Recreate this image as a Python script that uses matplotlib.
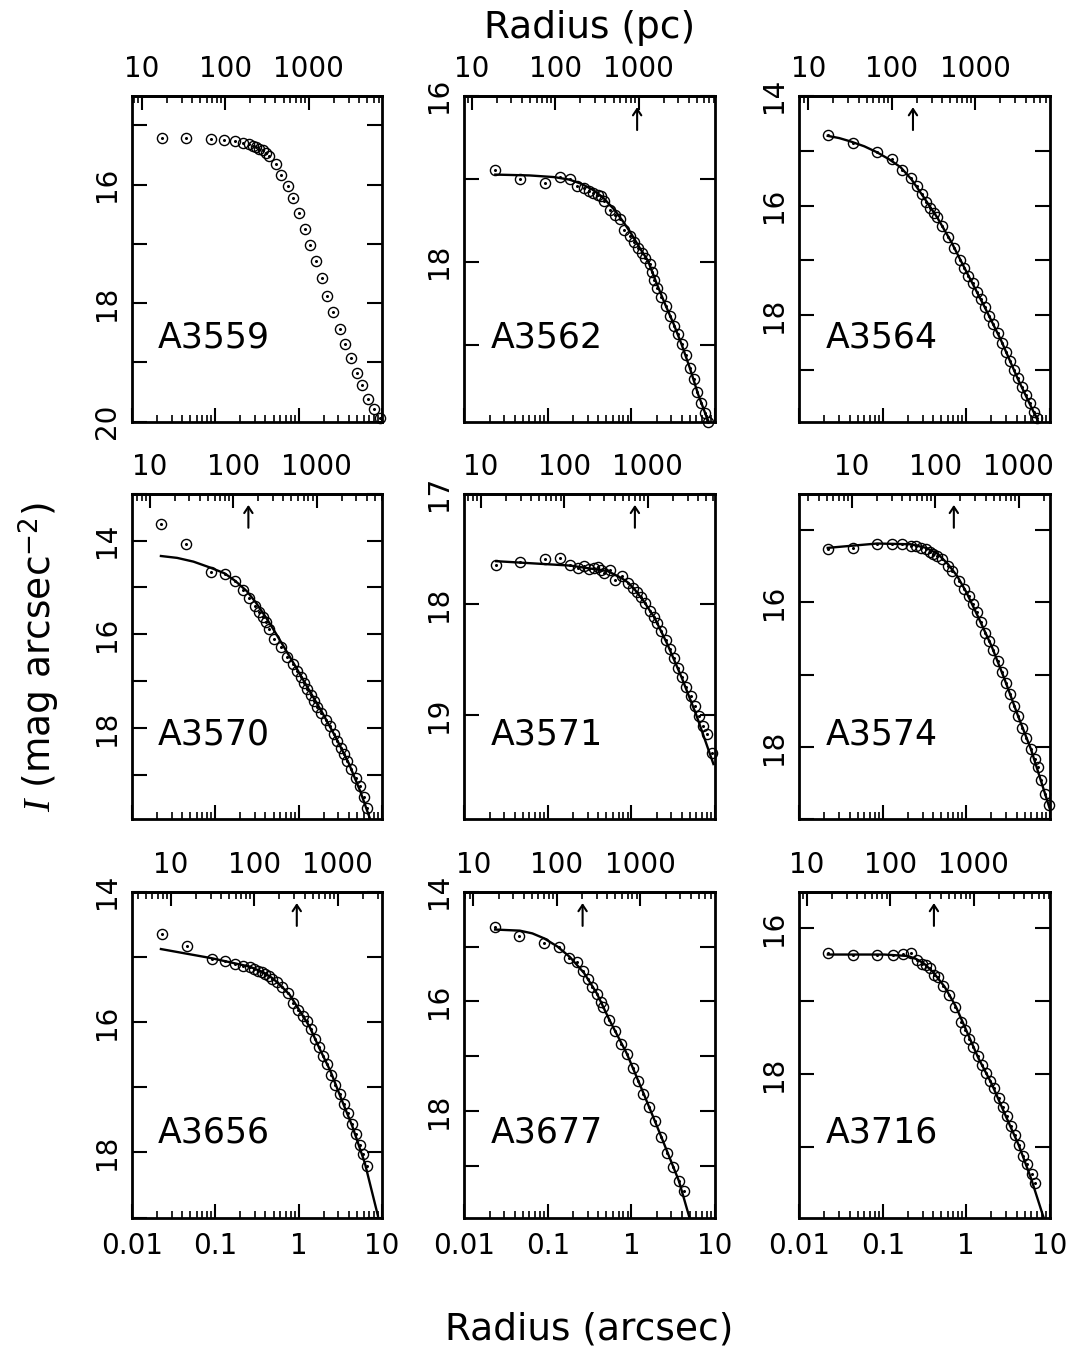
import numpy as np
import matplotlib
matplotlib.use('Agg')
import matplotlib.pyplot as plt
from matplotlib.ticker import LogLocator, NullFormatter, NullLocator

plt.rcParams['font.family'] = 'DejaVu Sans'
plt.rcParams['mathtext.fontset'] = 'custom'
plt.rcParams['mathtext.it'] = 'Liberation Serif:italic'
plt.rcParams['mathtext.rm'] = 'DejaVu Sans'

names = ['A3559', 'A3562', 'A3564', 'A3570', 'A3571', 'A3574', 'A3656', 'A3677', 'A3716']

# surface brightness profiles (radius in arcsec, I in mag arcsec^-2)
r_a3559 = [0.0228, 0.0445, 0.0883, 0.129, 0.174, 0.215, 0.253, 0.282, 0.309, 0.339, 0.371, 0.406,
           0.446, 0.535, 0.614, 0.737, 0.861, 0.996, 1.185, 1.371, 1.602, 1.889, 2.186, 2.604,
           3.097, 3.553, 4.266, 4.94, 5.77, 6.8, 7.94, 9.5]
mu_a3559 = [15.22, 15.22, 15.23, 15.24, 15.26, 15.29, 15.32, 15.34, 15.37, 15.40, 15.42, 15.46,
            15.51, 15.65, 15.83, 16.03, 16.22, 16.48, 16.75, 17.02, 17.29, 17.57, 17.87, 18.15,
            18.43, 18.69, 18.93, 19.17, 19.38, 19.61, 19.79, 19.94]

r_a3562 = [0.0234, 0.046, 0.091, 0.138, 0.184, 0.221, 0.272, 0.312, 0.348, 0.393, 0.431, 0.473,
           0.559, 0.636, 0.737, 0.823, 0.973, 1.086, 1.214, 1.331, 1.461, 1.663, 1.76, 1.857,
           2.037, 2.275, 2.57, 2.87, 3.21, 3.62, 4.04, 4.56, 5.0, 5.58, 6.12, 6.9, 7.58, 8.3]
mu_a3562 = [16.90, 17.00, 17.05, 16.98, 17.00, 17.09, 17.11, 17.15, 17.17, 17.19, 17.21, 17.27,
            17.38, 17.44, 17.49, 17.62, 17.69, 17.76, 17.83, 17.89, 17.95, 18.03, 18.12, 18.22,
            18.32, 18.42, 18.54, 18.65, 18.77, 18.87, 18.99, 19.12, 19.28, 19.42, 19.57, 19.70,
            19.82, 19.93]
fit_r_a3562 = [0.0234, 0.06, 0.118, 0.18, 0.25, 0.34, 0.45, 0.62, 0.8, 0.99, 1.25, 1.58,
               2.0, 2.5, 3.2, 4.0, 5.0, 6.3, 8.0, 9.1]
fit_mu_a3562 = [16.95, 16.96, 16.98, 17.01, 17.06, 17.13, 17.22, 17.37, 17.52, 17.66, 17.83, 17.99,
                18.26, 18.50, 18.75, 19.00, 19.28, 19.60, 19.88, 20.0]

r_a3564 = [0.0219, 0.0439, 0.0855, 0.1295, 0.171, 0.215, 0.259, 0.298, 0.333, 0.365, 0.411, 0.452,
           0.519, 0.607, 0.716, 0.847, 0.946, 1.057, 1.191, 1.344, 1.502, 1.679, 1.893, 2.115,
           2.387, 2.667, 3.007, 3.36, 3.72, 4.15, 4.64, 5.24, 5.85, 6.48, 7.1]
mu_a3564 = [14.71, 14.86, 15.03, 15.15, 15.35, 15.49, 15.64, 15.79, 15.93, 16.05, 16.14, 16.20,
            16.38, 16.57, 16.78, 17.00, 17.14, 17.29, 17.42, 17.57, 17.71, 17.85, 18.01, 18.16,
            18.33, 18.50, 18.66, 18.83, 19.00, 19.15, 19.30, 19.45, 19.60, 19.76, 19.88]
fit_r_a3564 = [0.0219, 0.03, 0.0408, 0.06, 0.0855, 0.12, 0.163, 0.22, 0.31, 0.45, 0.66, 1.0,
               1.65, 2.6, 4.15, 7.4]
fit_mu_a3564 = [14.73, 14.77, 14.83, 14.92, 15.03, 15.16, 15.30, 15.52, 15.85, 16.22, 16.66, 17.20,
                17.84, 18.45, 19.16, 19.96]

r_a3570 = [0.0224, 0.0452, 0.0883, 0.1296, 0.174, 0.214, 0.257, 0.30, 0.338, 0.371, 0.406, 0.446,
           0.511, 0.614, 0.723, 0.845, 0.944, 1.062, 1.164, 1.275, 1.398, 1.531, 1.679, 1.874,
           2.11, 2.355, 2.65, 2.91, 3.18, 3.49, 3.82, 4.26, 4.8, 5.36, 6.04, 6.62]
mu_a3570 = [13.64, 14.08, 14.67, 14.71, 14.86, 15.05, 15.22, 15.40, 15.52, 15.63, 15.74, 15.88,
            16.09, 16.26, 16.49, 16.63, 16.77, 16.91, 17.03, 17.16, 17.30, 17.41, 17.55, 17.68,
            17.82, 17.96, 18.12, 18.26, 18.41, 18.55, 18.69, 18.87, 19.05, 19.22, 19.47, 19.69]
fit_r_a3570 = [0.0224, 0.035, 0.055, 0.0883, 0.13, 0.174, 0.24, 0.31, 0.41, 0.53, 0.7, 0.93,
               1.3, 1.94, 2.8, 4.0, 5.5, 7.2]
fit_mu_a3570 = [14.33, 14.37, 14.45, 14.58, 14.70, 14.86, 15.08, 15.33, 15.65, 15.97, 16.33, 16.70,
                17.15, 17.68, 18.20, 18.75, 19.35, 19.94]

r_a3571 = [0.0239, 0.046, 0.0912, 0.138, 0.184, 0.226, 0.272, 0.312, 0.352, 0.393, 0.431, 0.473,
           0.559, 0.641, 0.772, 0.904, 1.038, 1.17, 1.306, 1.461, 1.648, 1.84, 2.04, 2.276,
           2.57, 2.87, 3.21, 3.62, 4.04, 4.56, 5.14, 5.74, 6.41, 7.23, 8.09, 9.12]
mu_a3571 = [17.645, 17.62, 17.59, 17.58, 17.645, 17.675, 17.655, 17.68, 17.675, 17.66, 17.69, 17.72,
            17.69, 17.78, 17.74, 17.81, 17.855, 17.885, 17.93, 17.99, 18.06, 18.11, 18.17, 18.24,
            18.32, 18.40, 18.48, 18.57, 18.655, 18.745, 18.83, 18.92, 19.01, 19.10, 19.17, 19.34]
fit_r_a3571 = [0.0239, 0.186, 0.52, 0.75, 0.9, 1.08, 1.4, 1.89, 2.7, 4.0, 6.0, 9.6]
fit_mu_a3571 = [17.61, 17.65, 17.70, 17.76, 17.80, 17.86, 17.97, 18.12, 18.36, 18.66, 19.00, 19.44]

r_a3574 = [0.0219, 0.0439, 0.0855, 0.1295, 0.171, 0.215, 0.252, 0.29, 0.327, 0.365, 0.404, 0.452,
           0.519, 0.607, 0.684, 0.824, 0.946, 1.087, 1.191, 1.344, 1.502, 1.679, 1.893, 2.115,
           2.387, 2.667, 3.007, 3.36, 3.72, 4.15, 4.64, 5.24, 5.9, 6.6, 7.23, 7.94, 8.87, 9.73]
mu_a3574 = [15.27, 15.25, 15.20, 15.19, 15.20, 15.22, 15.225, 15.25, 15.27, 15.31, 15.34, 15.36,
            15.41, 15.50, 15.57, 15.71, 15.82, 15.91, 16.03, 16.14, 16.28, 16.42, 16.54, 16.66,
            16.81, 16.97, 17.11, 17.27, 17.43, 17.57, 17.73, 17.87, 18.03, 18.16, 18.28, 18.46,
            18.65, 18.80]
fit_r_a3574 = [0.0219, 0.0855, 0.215, 0.33, 0.452, 0.6, 0.78, 1.0, 1.37, 2.0, 2.87, 4.2, 5.96, 10.0]
fit_mu_a3574 = [15.25, 15.19, 15.20, 15.25, 15.33, 15.47, 15.64, 15.86, 16.19, 16.60, 17.06, 17.58,
                18.03, 18.85]

r_a3656 = [0.0228, 0.0454, 0.0904, 0.1305, 0.175, 0.216, 0.26, 0.292, 0.327, 0.365, 0.40, 0.438,
           0.484, 0.556, 0.632, 0.746, 0.856, 0.982, 1.127, 1.259, 1.417, 1.582, 1.75, 1.955,
           2.18, 2.46, 2.74, 3.09, 3.45, 3.89, 4.38, 4.89, 5.46, 5.98, 6.56]
mu_a3656 = [14.65, 14.83, 15.03, 15.07, 15.11, 15.14, 15.16, 15.19, 15.21, 15.23, 15.27, 15.30,
            15.34, 15.38, 15.46, 15.56, 15.70, 15.81, 15.91, 15.99, 16.11, 16.26, 16.38, 16.52,
            16.65, 16.81, 16.96, 17.11, 17.25, 17.39, 17.56, 17.71, 17.88, 18.03, 18.21]
fit_r_a3656 = [0.0224, 0.0904, 0.26, 0.38, 0.49, 0.62, 0.78, 1.0, 1.35, 1.8, 2.4, 3.2, 4.4, 6.2, 8.9]
fit_mu_a3656 = [14.88, 15.02, 15.15, 15.24, 15.33, 15.45, 15.58, 15.80, 16.07, 16.42, 16.75, 17.16,
                17.60, 18.16, 18.97]

r_a3677 = [0.0233, 0.0455, 0.0898, 0.136, 0.18, 0.221, 0.265, 0.305, 0.34, 0.384, 0.432, 0.461,
           0.544, 0.635, 0.743, 0.893, 1.052, 1.209, 1.387, 1.636, 1.913, 2.256, 2.64, 3.17,
           3.71, 4.3]
mu_a3677 = [14.65, 14.80, 14.94, 15.00, 15.20, 15.29, 15.44, 15.60, 15.73, 15.87, 16.01, 16.10,
            16.34, 16.53, 16.77, 16.96, 17.22, 17.45, 17.69, 17.92, 18.18, 18.47, 18.77, 19.02,
            19.27, 19.45]
fit_r_a3677 = [0.0233, 0.046, 0.065, 0.0898, 0.13, 0.183, 0.27, 0.384, 0.55, 0.88, 1.4, 2.2, 3.7, 5.0]
fit_mu_a3677 = [14.69, 14.71, 14.76, 14.85, 15.00, 15.19, 15.48, 15.85, 16.35, 16.95, 17.68, 18.41,
                19.27, 19.96]

r_a3716 = [0.022, 0.0442, 0.0862, 0.131, 0.173, 0.218, 0.255, 0.294, 0.331, 0.37, 0.41, 0.459,
           0.527, 0.617, 0.729, 0.861, 0.963, 1.077, 1.215, 1.371, 1.532, 1.713, 1.932, 2.16,
           2.44, 2.72, 3.07, 3.44, 3.81, 4.26, 4.76, 5.37, 6.06, 6.65]
mu_a3716 = [16.345, 16.36, 16.37, 16.36, 16.35, 16.34, 16.44, 16.49, 16.50, 16.55, 16.64, 16.67,
            16.79, 16.92, 17.08, 17.28, 17.39, 17.52, 17.63, 17.75, 17.87, 17.98, 18.09, 18.19,
            18.32, 18.45, 18.57, 18.71, 18.83, 18.97, 19.11, 19.23, 19.36, 19.49]
fit_r_a3716 = [0.022, 0.104, 0.2, 0.25, 0.31, 0.4, 0.55, 0.75, 0.96, 1.4, 2.0, 3.0, 4.26, 6.0, 8.5]
fit_mu_a3716 = [16.36, 16.36, 16.38, 16.42, 16.48, 16.60, 16.80, 17.07, 17.35, 17.78, 18.12, 18.58,
                18.97, 19.43, 19.97]

radii = [r_a3559, r_a3562, r_a3564, r_a3570, r_a3571, r_a3574, r_a3656, r_a3677, r_a3716]
mags = [mu_a3559, mu_a3562, mu_a3564, mu_a3570, mu_a3571, mu_a3574, mu_a3656, mu_a3677, mu_a3716]
fit_r = [None, fit_r_a3562, fit_r_a3564, fit_r_a3570, fit_r_a3571, fit_r_a3574,
         fit_r_a3656, fit_r_a3677, fit_r_a3716]
fit_mu = [None, fit_mu_a3562, fit_mu_a3564, fit_mu_a3570, fit_mu_a3571, fit_mu_a3574,
          fit_mu_a3656, fit_mu_a3677, fit_mu_a3716]
arrow_r = [None, 1.17, 0.23, 0.25, 1.1, 0.71, 0.95, 0.26, 0.41]
pc_per_arcsec = [758, 820, 780, 610, 635, 235, 340, 780, 810]
ylims = [(20.0, 14.5), (19.93, 16.0), (19.94, 14.0), (19.94, 13.0), (19.94, 17.0),
         (19.0, 14.5), (19.0, 14.0), (19.94, 14.0), (19.96, 15.5)]
label_step = [2, 2, 2, 2, 1, 2, 2, 2, 2]

fig = plt.figure(figsize=(10.68, 13.57), dpi=100)
lefts = [0.1233, 0.4349, 0.7484]
bottoms = [0.6892, 0.3961, 0.1027]
w, h = 0.2345, 0.2402
fs = 20

for i, name in enumerate(names):
    row, col = divmod(i, 3)
    ax = fig.add_axes([lefts[col], bottoms[row], w, h])
    ax.set_xscale('log')
    ax.set_xlim(0.01, 10)
    ax.set_ylim(*ylims[i])
    for s in ax.spines.values():
        s.set_linewidth(2)

    if fit_r[i] is not None:
        ax.plot(fit_r[i], fit_mu[i], color='k', lw=1.7)
    ax.plot(radii[i], mags[i], 'o', mfc='none', mec='k', ms=7.3, mew=1.0, clip_on=False)
    ax.plot(radii[i], mags[i], '.', color='k', ms=2.4, clip_on=False)

    # y axis: tick every mag, labels on some
    lo, hi = ylims[i][1], ylims[i][0]
    yt = np.arange(np.ceil(lo - 1e-6), np.floor(hi + 1e-6) + 1)
    ylab = [str(int(v)) if int(v) % label_step[i] == 0 else '' for v in yt]
    ax.set_yticks(yt, labels=ylab, rotation=90, va='center', fontsize=fs)
    ax.yaxis.set_minor_locator(NullLocator())
    ax.tick_params(axis='y', direction='in', length=11, width=1.5, left=True, right=True, pad=8)

    # bottom axis in arcsec
    xt = [0.01, 0.1, 1, 10]
    if row == 2:
        ax.set_xticks(xt, labels=['0.01', '0.1', '1', '10'], fontsize=fs)
    else:
        ax.set_xticks(xt, labels=['', '', '', ''])
    ax.xaxis.set_minor_locator(LogLocator(base=10, subs=np.arange(2, 10), numticks=20))
    ax.xaxis.set_minor_formatter(NullFormatter())
    ax.tick_params(axis='x', which='major', direction='in', length=10, width=1.5, top=False, pad=10)
    ax.tick_params(axis='x', which='minor', direction='in', length=5, width=1.2, top=False)

    # top axis in pc
    f = pc_per_arcsec[i]
    sec = ax.secondary_xaxis('top', functions=(lambda x, f=f: x * f, lambda x, f=f: x / f))
    sec.set_xticks([10, 100, 1000], labels=['10', '100', '1000'], fontsize=fs)
    sec.xaxis.set_minor_locator(LogLocator(base=10, subs=np.arange(2, 10), numticks=30))
    sec.xaxis.set_minor_formatter(NullFormatter())
    sec.tick_params(which='major', direction='in', length=10, width=1.5, pad=9)
    sec.tick_params(which='minor', direction='in', length=5, width=1.2)
    sec.spines['top'].set_linewidth(2)

    if arrow_r[i] is not None:
        ax.annotate('', xy=(arrow_r[i], 0.965), xytext=(arrow_r[i], 0.895),
                    xycoords=('data', 'axes fraction'), textcoords=('data', 'axes fraction'),
                    arrowprops=dict(arrowstyle='->,head_length=0.45,head_width=0.3',
                                    lw=1.5, color='k', shrinkA=0, shrinkB=0))

    ax.text(0.105, 0.26, name, transform=ax.transAxes, fontsize=25, ha='left', va='center')

fig.text(0.552, 0.979, 'Radius (pc)', ha='center', va='center', fontsize=27)
fig.text(0.552, 0.020, 'Radius (arcsec)', ha='center', va='center', fontsize=27)
fig.text(0.037, 0.516, r'$I$ (mag arcsec$^{-2}$)', rotation=90, ha='center', va='center', fontsize=27)

plt.savefig('out.png', dpi=100)
